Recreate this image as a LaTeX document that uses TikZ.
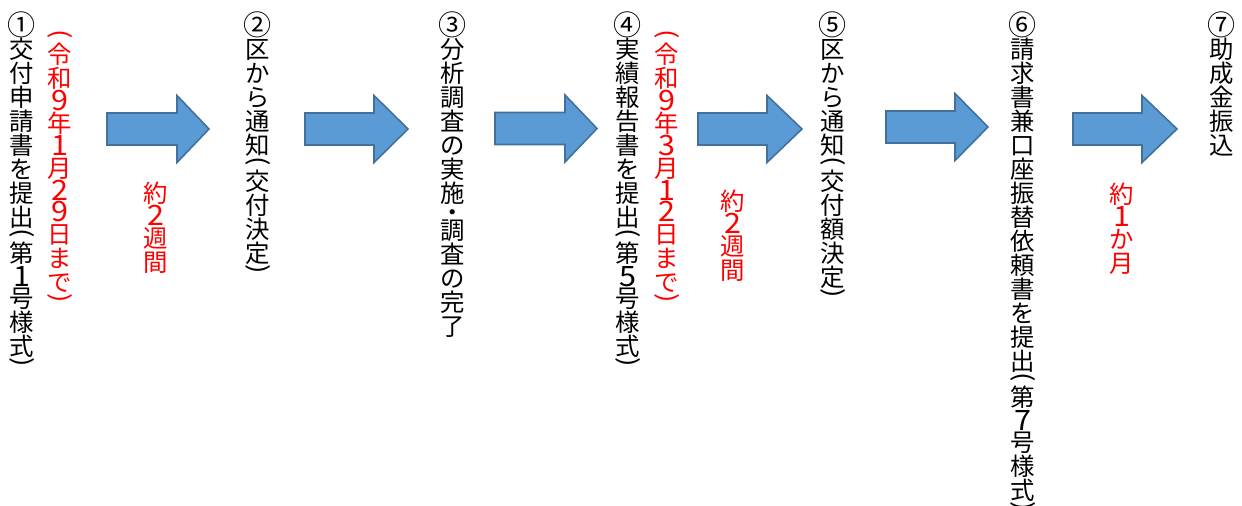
\documentclass[tikz,border=0pt]{standalone}
\usepackage{fontspec}
\setmainfont{Noto Sans CJK JP}
\usepackage{graphicx}
\definecolor{arrowfill}{HTML}{5B9BD5}
\definecolor{arrowline}{HTML}{41719C}
\definecolor{textred}{HTML}{FF0000}
\newlength\vw
\setlength\vw{30bp}
% one slot of a vertical column: #1 = its height, #2 = its content
\newcommand\vslot[2]{\vbox to #1{\vss\hbox to \vw{\hss#2\hss}\vss}}
\newcommand\vglyph[1]{\raisebox{-0.38em}[0pt][0pt]{#1}}
\newcommand\vtdo[1]{%
  \ifx(#1\vslot{12bp}{\scalebox{1}[1.15]{\rotatebox[origin=c]{-90}{(}}}%
  \else\ifx)#1\vslot{12bp}{\scalebox{1}[1.15]{\rotatebox[origin=c]{-90}{)}}}%
  \else\ifx・#1\vslot{13bp}{\vglyph{・}}%
  \else\ifnum`#1<128 \vslot{21bp}{\raisebox{-0.41em}[0pt][0pt]{\scalebox{1.25}[1.15]{#1}}}%
  \else\ifnum`#1>"245F \ifnum`#1<"2474
    \vslot{24bp}{\raisebox{-0.42em}[0pt][0pt]{\scalebox{1.15}{#1}}}%
    \else\vslot{24bp}{\vglyph{#1}}\fi
  \else\vslot{24bp}{\vglyph{#1}}%
  \fi\fi\fi\fi\fi}
\def\vtend{vtend-marker}
\def\vtloop#1{%
  \ifx\vtend#1\else
    \vtdo{#1}%
    \expandafter\vtloop
  \fi}
\newcommand\vtext[1]{\vbox{\offinterlineskip\vtloop#1\vtend}}
\newcommand\blockarr[4]{%
  \draw[blockarrow] (#1,#4-16) -- (#2,#4-16) -- (#2,#4-33.5) -- (#3,#4)
    -- (#2,#4+33.5) -- (#2,#4+16) -- (#1,#4+16) -- cycle;}
\begin{document}
\begin{tikzpicture}[x=1bp,y=-1bp,
  col/.style={inner sep=0pt, outer sep=0pt, anchor=north,
    font=\fontsize{24.5}{24}\selectfont},
  blk/.style={col, text=black},
  redtxt/.style={col, text=textred},
  blockarrow/.style={fill=arrowfill, draw=arrowline, line width=1.6bp,
    line join=miter}]
\useasboundingbox (0,0) rectangle (1242,506);
% step columns
\node[blk] (s1) at (22,13.5) {\vtext{①交付申請書を提出(第1号様式)}};
\node[redtxt] (d1) at (60,30) {\vtext{(令和9年1月29日まで)}};
\node[redtxt] (t1) at (156,181) {\vtext{約2週間}};
\node[blk] (s2) at (258,13.5) {\vtext{②区から通知(交付決定)}};
\node[blk] (s3) at (453,13.5) {\vtext{③分析調査の実施・調査の完了}};
\node[blk] (s4) at (628,13.5) {\vtext{④実績報告書を提出(第5号様式)}};
\node[redtxt] (d4) at (667,30) {\vtext{(令和9年3月12日まで)}};
\node[redtxt] (t4) at (733,189) {\vtext{約2週間}};
\node[blk] (s5) at (833,13.5) {\vtext{⑤区から通知(交付額決定)}};
\node[blk] (s6) at (1023,13.5) {\vtext{⑥請求書兼口座振替依頼書を提出(第7号様式)}};
\node[redtxt] (t6) at (1122,182) {\vtext{約1か月}};
\node[blk] (s7) at (1222,13.5) {\vtext{⑦助成金振込}};
% block arrows
\blockarr{107}{177}{209}{129}
\blockarr{305}{374}{408}{129}
\blockarr{495}{565}{597}{128.5}
\blockarr{698}{767}{802}{129}
\blockarr{886}{955}{988}{127}
\blockarr{1073}{1142}{1177}{129}
\end{tikzpicture}
\end{document}
